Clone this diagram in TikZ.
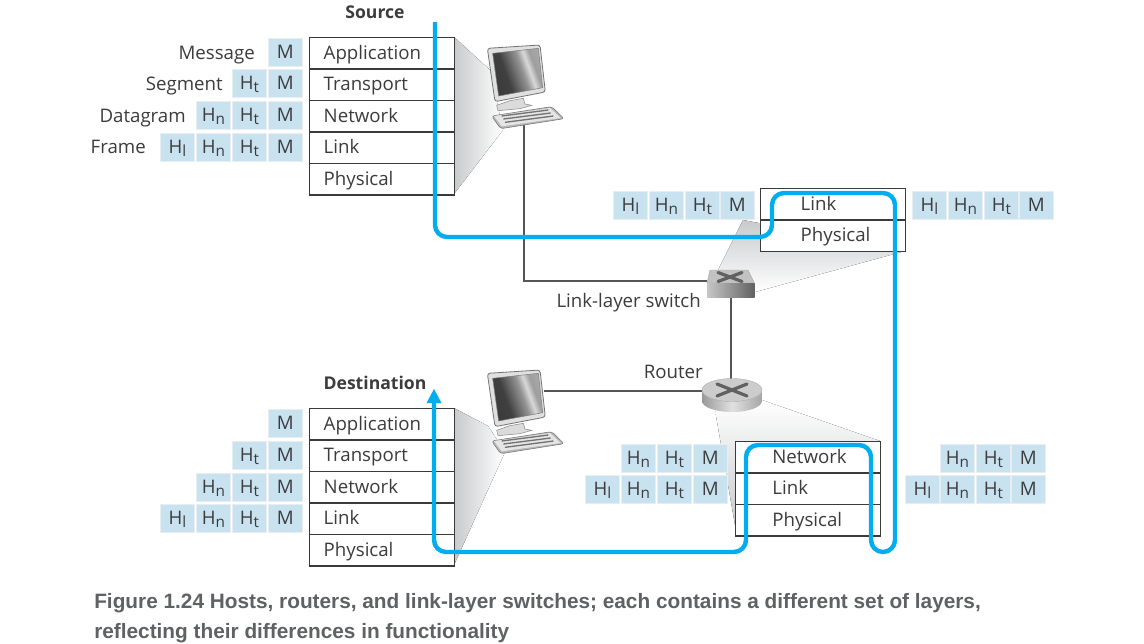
\documentclass[tikz,border=0pt]{standalone}
\usepackage{fontspec}
\setmainfont{Open Sans}
\newfontfamily\capfont{Liberation Sans}
\usetikzlibrary{arrows.meta,shapes.geometric}
\definecolor{inktext}{HTML}{3C3C3E}
\definecolor{capgray}{HTML}{5F6163}
\definecolor{cellblue}{HTML}{C9E2F0}
\definecolor{celledge}{HTML}{E6EEF2}
\definecolor{routeblue}{HTML}{00AEEF}
\definecolor{boxline}{HTML}{3A3A3A}
\definecolor{wire}{HTML}{555557}
\definecolor{fangray}{HTML}{C8CACC}
\pgfdeclarehorizontalshading{screenshade}{100bp}{color(0bp)=(black!80); color(38bp)=(black!75); color(55bp)=(black!42); color(62bp)=(black!15); color(68bp)=(black!38); color(100bp)=(black!22)}
\tikzset{
  layerbox/.style={draw=boxline,line width=1.1pt,fill=white,minimum width=108.75pt,minimum height=23.6pt,inner xsep=0pt,inner ysep=0pt,text width=108.75pt,align=left,anchor=north west,text=inktext,font=\fontsize{14}{16}\selectfont,text height=11.25pt,text depth=2.25pt},
  cellbox/.style={fill=cellblue,draw=celledge,line width=.6pt,minimum width=25.5pt,minimum height=21pt,inner sep=0pt,anchor=north west,text=inktext,font=\fontsize{14}{16}\selectfont,text height=11.25pt,text depth=2.25pt},
  tagtext/.style={text=inktext,font=\fontsize{14}{16}\selectfont,inner sep=0pt},
  headtext/.style={text=inktext,font=\fontsize{13.2}{16}\selectfont\bfseries,inner sep=0pt},
  captext/.style={text=capgray,font=\capfont\fontsize{15.6}{17}\selectfont\bfseries,inner sep=0pt,anchor=base west},
  link/.style={draw=wire,line width=1.4pt},
  route/.style={draw=routeblue,line width=3.3pt,rounded corners=9pt},
  fan/.style={draw=none},
  pics/computer/.style={code={
    \begin{scope}[scale=1/3]
      \fill[black!28,draw=black!50,line width=.5pt,rounded corners=2pt] (65,258) -- (245,230) -- (282,266) -- (92,296) -- cycle;
      \fill[black!10] (72,258) -- (240,234) -- (272,264) -- (95,289) -- cycle;
      \draw[black!55,line width=1pt] (95,258) -- (235,240) (100,267) -- (242,249) (105,277) -- (250,258);
      \fill[black!14,draw=black!45,line width=.4pt] (80,226) -- (120,212) -- (160,205) -- (165,222) -- (185,226) -- (150,236) -- (84,242) -- cycle;
      \fill[black!12,draw=black!55,line width=.6pt,rounded corners=2pt] (52,55) -- (210,45) -- (226,186) -- (75,215) -- cycle;
      \shade[shading=screenshade,shading angle=20,draw=black!50,line width=.4pt] (68,70) -- (205,55) -- (218,173) -- (86,198) -- cycle;
    \end{scope}
  }},
  pics/xmark/.style 2 args={code={
    \draw[black!62,line width=2.4pt,line cap=round] (-#1,-#2) -- (#1,#2) (-#1,#2) -- (#1,-#2);
  }},
}
\newcommand{\hsub}[1]{H\raisebox{-2.4pt}{\fontsize{11.5}{12}\selectfont #1}}
\begin{document}
\begin{tikzpicture}[x=.75pt,y=-.75pt]
\useasboundingbox (0,0) rectangle (1144,643);
\fill[white] (0,0) rectangle (1144,643);

% fans
\fill[left color=fangray,right color=white,fan] (454,37) -- (490,70) -- (503,130) -- (454,194) -- cycle;
\fill[left color=fangray,right color=white,fan] (454,408) -- (488,426) -- (505,452) -- (454,565) -- cycle;
\fill[top color=fangray,bottom color=white,fan] (743,220) -- (905,251) -- (755,292) -- (718,270) -- cycle;
\fill[top color=white,bottom color=fangray,fan] (715,410) -- (762,400) -- (880,441) -- (735,441) -- (735,525) -- cycle;

% wires
\coordinate (srcjack) at (524,125);
\coordinate (srcbend) at (524,281);
\coordinate (dstjack) at (544,391);
\coordinate (swwest) at (707,281);
\coordinate (swsouth) at (731,297);
\coordinate (rtnorth) at (731,380);
\coordinate (rtwest) at (702,391);
\draw[link] (srcjack) -- (srcbend) -- (swwest);
\draw[link] (swsouth) -- (rtnorth);
\draw[link] (dstjack) -- (rtwest);

% devices
\pic at (470,30) {computer};
\pic at (470,355) {computer};

% switch
\fill[black!24,draw=black!35,line width=.3pt] (710,270) -- (748,270) -- (754.5,283) -- (707,283) -- cycle;
\shade[left color=black!22,right color=black!62] (707,283) rectangle (754.5,297);
\pic at (730,277) {xmark={12}{4.5}};

% router
\shade[left color=black!40,right color=black!35,middle color=black!12] (702,390) -- (702,401) arc[start angle=180,end angle=0,x radius=30,y radius=11] -- (762,390) -- cycle;
\fill[black!20,draw=black!32,line width=.3pt] (732,390) ellipse[x radius=30,y radius=11.5];
\pic at (732,390) {xmark={15}{6}};

% source stack
\foreach \nm/\ytop/\txt in {sa/37/Application,st/68.5/Transport,sn/100/Network,sl/131.5/Link,sp/163/Physical}
  \node[layerbox] (\nm) at (309,\ytop) {\hspace*{10.5pt}\txt};
% destination stack
\foreach \nm/\ytop/\txt in {da/408/Application,dt/439.5/Transport,dn/471/Network,dl/502.5/Link,dp/534/Physical}
  \node[layerbox] (\nm) at (309,\ytop) {\hspace*{10.5pt}\txt};
% switch stack
\foreach \nm/\ytop/\txt in {wl/188/Link,wp/219.5/Physical}
  \node[layerbox] (\nm) at (760,\ytop) {\hspace*{30pt}\txt};
% router stack
\foreach \nm/\ytop/\txt in {rn/441/Network,rl/472.5/Link,rp/504/Physical}
  \node[layerbox] (\nm) at (735,\ytop) {\hspace*{27.5pt}\txt};

% header cells
\foreach \nm/\cx/\cy/\txt in {
  a1/268/38/M,
  b1/232/69/\hsub{t},b2/268/69/M,
  c1/196/101/\hsub{n},c2/232/101/\hsub{t},c3/268/101/M,
  d1/160/133/\hsub{l},d2/196/133/\hsub{n},d3/232/133/\hsub{t},d4/268/133/M,
  e1/268/409/M,
  f1/232/441/\hsub{t},f2/268/441/M,
  g1/196/473/\hsub{n},g2/232/473/\hsub{t},g3/268/473/M,
  h1/160/504/\hsub{l},h2/196/504/\hsub{n},h3/232/504/\hsub{t},h4/268/504/M,
  i1/613/191/\hsub{l},i2/649/191/\hsub{n},i3/685/191/\hsub{t},i4/720/191/M,
  j1/912/191/\hsub{l},j2/948/191/\hsub{n},j3/984/191/\hsub{t},j4/1019/191/M,
  k1/621/444/\hsub{n},k2/657/444/\hsub{t},k3/693/444/M,
  m1/585/475/\hsub{l},m2/621/475/\hsub{n},m3/657/475/\hsub{t},m4/693/475/M,
  n1/940/444/\hsub{n},n2/976/444/\hsub{t},n3/1011/444/M,
  o1/905/475/\hsub{l},o2/940/475/\hsub{n},o3/976/475/\hsub{t},o4/1011/475/M}
  \node[cellbox] (\nm) at (\cx,\cy) {\txt};

% tags
\node[tagtext,anchor=base east] (tmsg) at (255,59) {Message};
\node[tagtext,anchor=base east] (tseg) at (223,90) {Segment};
\node[tagtext,anchor=base east] (tdat) at (186,122) {Datagram};
\node[tagtext,anchor=base east] (tfrm) at (146,153) {Frame};
\node[tagtext,anchor=base east] (tsw) at (701,307) {Link-layer switch};
\node[tagtext,anchor=base east] (trt) at (703,378) {Router};
\node[headtext,anchor=base] (hsrc) at (375,18) {Source};
\node[headtext,anchor=base] (hdst) at (375,389) {Destination};

% route
\coordinate (r0) at (435,22);
\coordinate (r1) at (435,237);
\coordinate (r2) at (772,237);
\coordinate (r3) at (772,193);
\coordinate (r4) at (895,193);
\coordinate (r5) at (895,552);
\coordinate (r6) at (871,552);
\coordinate (r7) at (871,445);
\coordinate (r8) at (746,445);
\coordinate (r9) at (746,552);
\coordinate (r10) at (434,552);
\coordinate (r11) at (434,402);
\coordinate (r12) at (434,389);
\draw[route] (r0) -- (r1) -- (r2) -- (r3) -- (r4) -- (r5) -- (r6) -- (r7) -- (r8) -- (r9) -- (r10) -- (r11);
\fill[routeblue] (r12) -- (441.5,403) -- (426.5,403) -- cycle;

% caption
\node[captext] (cap1) at (94,608) {Figure 1.24 Hosts, routers, and link-layer switches; each contains a different set of layers,};
\node[captext] (cap2) at (94,638) {reflecting their differences in functionality};
\end{tikzpicture}
\end{document}
